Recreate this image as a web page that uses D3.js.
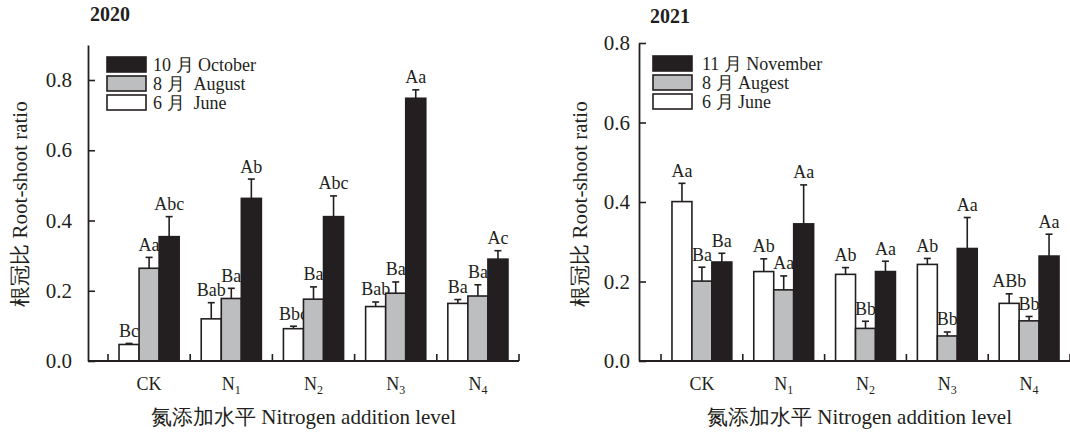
<!DOCTYPE html>
<html><head><meta charset="utf-8">
<script src="https://cdn.jsdelivr.net/npm/d3@7"></script>
</head><body style="margin:0;background:#fff">
<svg id="chart" width="1070" height="434" style="font-family:'Liberation Serif',serif"></svg>
<script>
// ---------- data ----------
const categories = ["CK", "N1", "N2", "N3", "N4"];
const seriesKeys = ["june", "aug", "late"];

// 2020
const june2020 = [0.047, 0.120, 0.092, 0.155, 0.164];
const june2020Err = [0.003, 0.046, 0.007, 0.013, 0.011];
const june2020Sig = ["Bc", "Bab", "Bbc", "Bab", "Ba"];
const aug2020 = [0.264, 0.178, 0.176, 0.193, 0.185];
const aug2020Err = [0.031, 0.029, 0.035, 0.032, 0.032];
const aug2020Sig = ["Aa", "Ba", "Ba", "Ba", "Ba"];
const oct2020 = [0.354, 0.463, 0.411, 0.748, 0.290];
const oct2020Err = [0.057, 0.055, 0.059, 0.024, 0.024];
const oct2020Sig = ["Abc", "Ab", "Abc", "Aa", "Ac"];

// 2021
const june2021 = [0.401, 0.225, 0.218, 0.243, 0.145];
const june2021Err = [0.046, 0.032, 0.017, 0.015, 0.024];
const june2021Sig = ["Aa", "Ab", "Ab", "Ab", "ABb"];
const aug2021 = [0.201, 0.179, 0.082, 0.063, 0.101];
const aug2021Err = [0.035, 0.035, 0.018, 0.010, 0.011];
const aug2021Sig = ["Ba", "Aa", "Bb", "Bb", "Bb"];
const nov2021 = [0.249, 0.345, 0.225, 0.283, 0.264];
const nov2021Err = [0.022, 0.098, 0.026, 0.078, 0.055];
const nov2021Sig = ["Ba", "Aa", "Aa", "Aa", "Aa"];

const legend2020 = ["10 月 October", "8 月  August", "6 月  June"];
const legend2021 = ["11 月 November", "8 月 Augest", "6 月 June"];
const yTicks2020 = [0.0, 0.2, 0.4, 0.6, 0.8];
const yTicks2021 = [0.0, 0.2, 0.4, 0.6, 0.8];
const yTitle = "根冠比 Root-shoot ratio";
const xTitle = "氮添加水平 Nitrogen addition level";

const colors = {june: "#ffffff", aug: "#bcbec0", late: "#231f20"};
const ink = "#231f20";
const FONT = "'Liberation Serif', 'Times New Roman', serif";

const svg = d3.select("#chart");

function txt(sel, size) {
  return sel.style("font-family", FONT).style("font-size", size + "px").attr("fill", ink);
}

function drawPanel(p) {
  const g = svg.append("g");
  const y = d3.scaleLinear().domain(p.yDomain).range([p.y0, p.y1]);
  const x = d3.scaleBand().domain(categories).range(p.xBand).padding(0);
  const xi = d3.scaleBand().domain(seriesKeys).range([0, x.bandwidth()]).paddingInner(0).paddingOuter(0.55);

  // y axis
  const yAxis = d3.axisLeft(y).tickValues(p.yTicks).tickFormat(d3.format(".1f"))
    .tickSize(-7).tickSizeOuter(0).tickPadding(p.tickPad);
  const ya = g.append("g").attr("transform", `translate(${p.axisX},0)`).call(yAxis);
  ya.attr("font-family", null).attr("font-size", null);
  ya.select(".domain").attr("stroke", ink).attr("stroke-width", 1.8);
  ya.selectAll(".tick line").attr("stroke", ink).attr("stroke-width", 1.6);
  txt(ya.selectAll(".tick text"), 21);

  // bars
  const rows = categories.map((c, i) => ({c, i}));
  seriesKeys.forEach(k => {
    const s = p.series[k];
    const grp = g.append("g");
    rows.forEach(r => {
      const v = s.values[r.i], e = s.err[r.i];
      const bx = x(r.c) + xi(k), bw = xi.bandwidth();
      const cx = bx + bw / 2;
      grp.append("line").attr("x1", cx).attr("x2", cx).attr("y1", y(v)).attr("y2", y(v + e))
        .attr("stroke", ink).attr("stroke-width", 1.6);
      grp.append("line").attr("x1", cx - 3.5).attr("x2", cx + 3.5).attr("y1", y(v + e)).attr("y2", y(v + e))
        .attr("stroke", ink).attr("stroke-width", 1.6);
      grp.append("rect").attr("x", bx).attr("y", y(v)).attr("width", bw).attr("height", y(0) - y(v))
        .attr("fill", colors[k]).attr("stroke", ink).attr("stroke-width", 1.6);
      txt(grp.append("text").attr("x", cx).attr("y", y(v + e) - 6.5).attr("text-anchor", "middle"), 18)
        .text(s.sig[r.i]);
    });
  });

  // x axis line and boundary ticks
  g.append("line").attr("x1", p.axisX).attr("x2", p.xBand[1]).attr("y1", y(0)).attr("y2", y(0))
    .attr("stroke", ink).attr("stroke-width", 1.8);
  const bounds = categories.map(c => x(c)).concat([x.range()[1]]);
  g.selectAll(".xt").data(bounds).join("line")
    .attr("x1", d => d).attr("x2", d => d).attr("y1", y(0)).attr("y2", y(0) - 7)
    .attr("stroke", ink).attr("stroke-width", 1.6);

  // category labels
  categories.forEach(c => {
    const t = txt(g.append("text").attr("x", x(c) + x.bandwidth() / 2).attr("y", 390)
      .attr("text-anchor", "middle"), 18);
    if (c === "CK") t.text("CK");
    else {
      t.append("tspan").text(c[0]);
      t.append("tspan").attr("dy", 4).style("font-size", "12px").text(c.slice(1));
    }
  });

  // axis titles
  txt(g.append("text").attr("x", (p.axisX + p.xBand[1]) / 2 + p.xTitleShift).attr("y", 424)
    .attr("text-anchor", "middle"), 21).text(xTitle);
  txt(g.append("text").attr("transform", `translate(${p.yTitleX},204) rotate(-90)`)
    .attr("text-anchor", "middle").attr("dy", "0.35em"), 21).text(yTitle);

  // year title
  txt(g.append("text").attr("x", p.titleX).attr("y", p.titleY), 20).style("font-weight", "bold").text(p.title);

  // legend
  const order = ["late", "aug", "june"];
  order.forEach((k, i) => {
    const ly = p.legendY + i * 19;
    g.append("rect").attr("x", p.legendX).attr("y", ly).attr("width", 39).attr("height", 15)
      .attr("fill", colors[k]).attr("stroke", ink).attr("stroke-width", 1.6);
    txt(g.append("text").attr("x", p.legendX + p.legendTextOff).attr("y", ly + 14)
      .attr("xml:space", "preserve"), 18)
      .style("white-space", "pre").text(p.legend[i]);
  });
}

drawPanel({
  title: "2020", titleX: 90, titleY: 21,
  yDomain: [0, 0.9], y0: 361, y1: 361 - 0.9 * 351.25, yTicks: yTicks2020, tickPad: 16,
  axisX: 88, xBand: [108, 519], yTitleX: 20, xTitleShift: 0,
  legendX: 107, legendY: 57, legendTextOff: 46, legend: legend2020,
  series: {
    june: {values: june2020, err: june2020Err, sig: june2020Sig},
    aug: {values: aug2020, err: aug2020Err, sig: aug2020Sig},
    late: {values: oct2020, err: oct2020Err, sig: oct2020Sig}
  }
});

drawPanel({
  title: "2021", titleX: 650, titleY: 23,
  yDomain: [0, 0.8], y0: 361, y1: 43, yTicks: yTicks2021, tickPad: 9,
  axisX: 639, xBand: [661, 1070], yTitleX: 580, xTitleShift: 5,
  legendX: 653, legendY: 56, legendTextOff: 49, legend: legend2021,
  series: {
    june: {values: june2021, err: june2021Err, sig: june2021Sig},
    aug: {values: aug2021, err: aug2021Err, sig: aug2021Sig},
    late: {values: nov2021, err: nov2021Err, sig: nov2021Sig}
  }
});
</script>
</body></html>
